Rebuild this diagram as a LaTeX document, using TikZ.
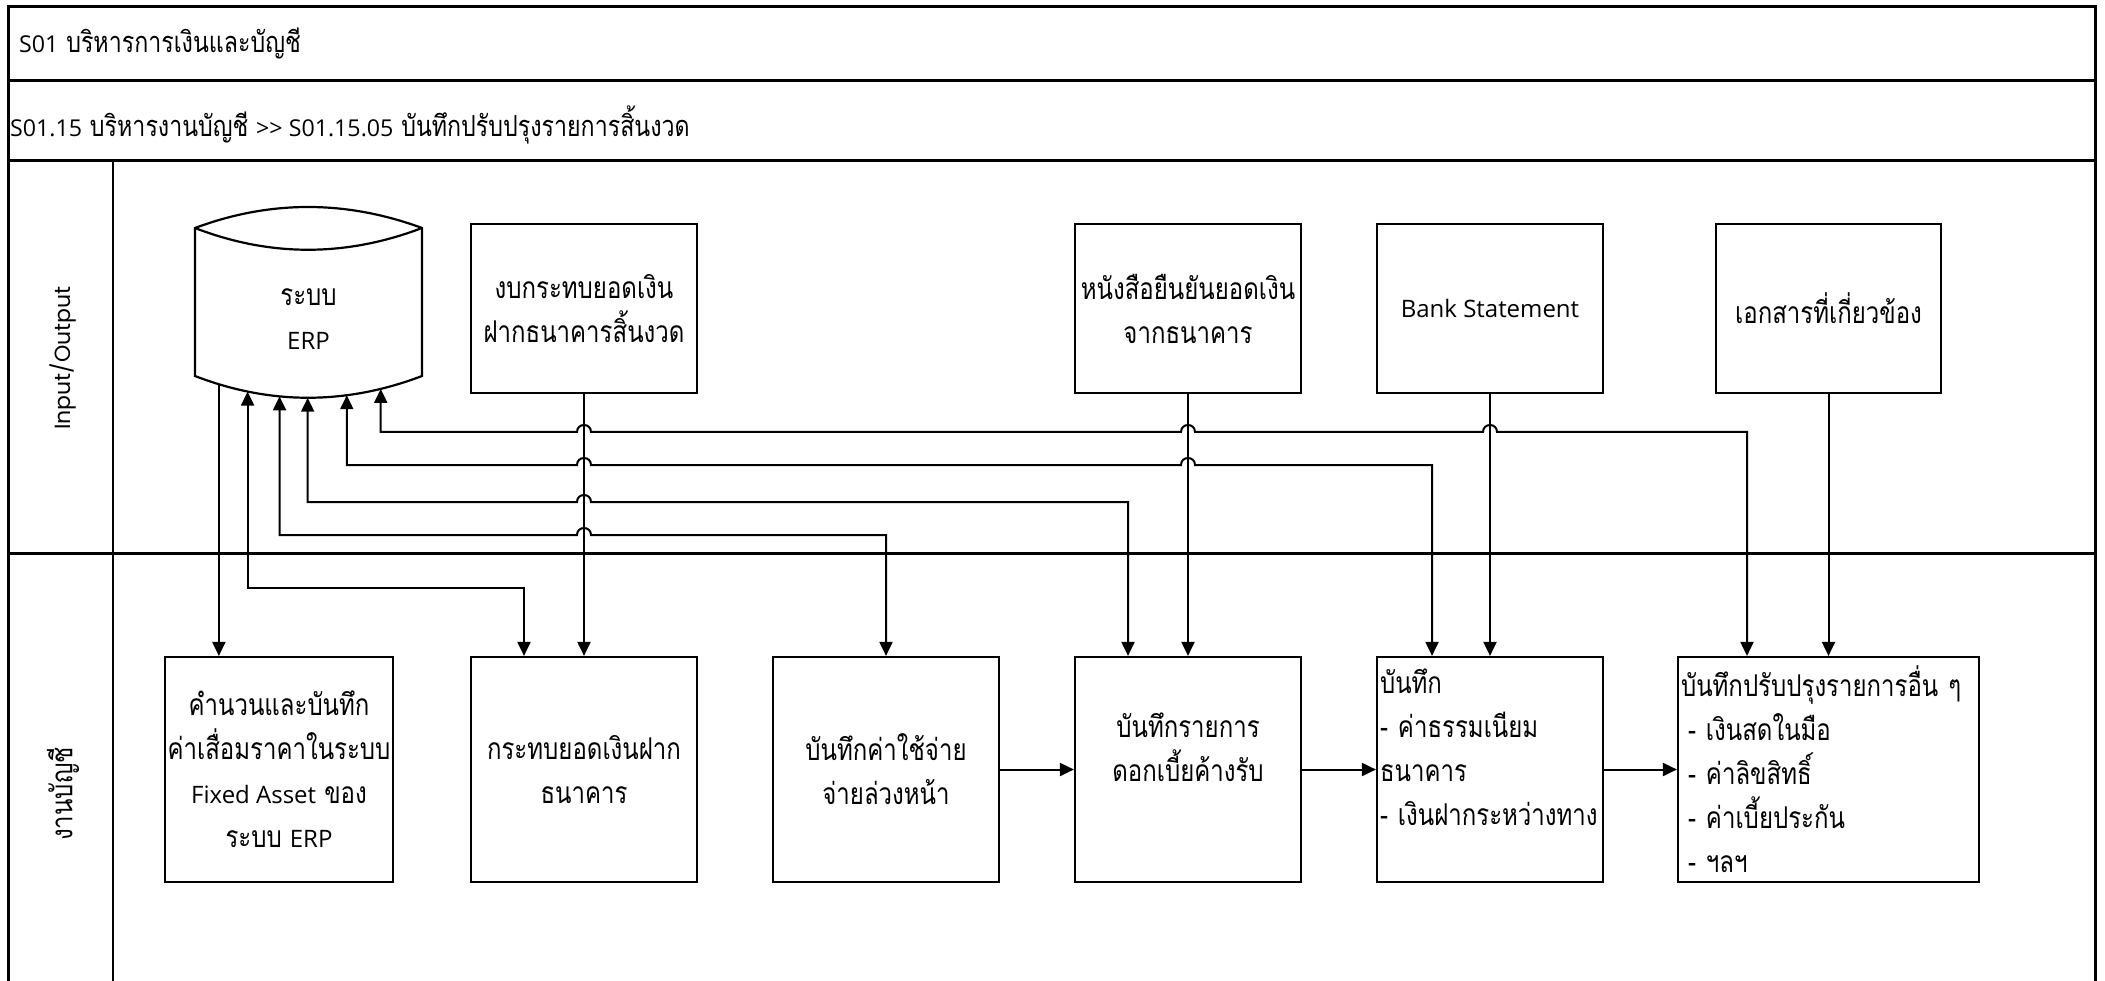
\documentclass[tikz,border=0pt]{standalone}
\usepackage{fontspec}
\setmainfont[Script=Thai,FakeStretch=0.8]{Loma}
\newfontfamily\latn[Scale=0.8]{Open Sans}
\newfontfamily\geo{Poppins}
\usetikzlibrary{arrows.meta,calc}
\newcommand\thaisize{\fontsize{30pt}{44pt}\selectfont}
\newcommand\headsize{\fontsize{29pt}{44pt}\selectfont}

\begin{document}
\begin{tikzpicture}[x=1pt,y=-1pt,
  >={Triangle[length=14pt,width=13pt]},
  frame/.style={line width=3pt},
  divider/.style={line width=2pt},
  box/.style={draw, line width=2.2pt, inner xsep=2pt, inner ysep=1pt, align=center, font=\thaisize},
  upbox/.style={box, minimum width=226pt, minimum height=169pt},
  lowbox/.style={box, minimum width=226pt, minimum height=225pt},
  flow/.style={line width=2pt, ->},
  twoway/.style={line width=2pt, <->},
  header/.style={anchor=west, inner sep=0pt, font=\headsize},
]
\useasboundingbox (0,0) rectangle (2105,981);
\fill[white] (0,0) rectangle (2105,981);
\clip (0,0) rectangle (2105,981);

% frame, header rows and swimlanes
\draw[frame] (8,1000) -- (8,7) -- (2095,7) -- (2095,1000);
\draw[frame] (8,81) -- (2095,81);
\draw[frame] (8,161) -- (2095,161);
\draw[frame] (8,553) -- (2095,553);
\draw[divider] (113,161) -- (113,1000);

\node[header] (title) at (19,44) {{\latn S01} บริหารการเงินและบัญชี};
\node[header] (subtitle) at (10,125) {{\latn S01.15} บริหารงานบัญชี {\latn >> S01.15.05} บันทึกปรับปรุงรายการสิ้นงวด};

\node[rotate=90, font=\geo\fontsize{22pt}{26pt}\selectfont] (lane-io) at (63,358) {Input/Output};
\node[rotate=90, font=\thaisize] (lane-acc) at (63,794) {งานบัญชี};

% ERP data store
\node[align=center, font=\thaisize] (erp) at (308.5,319) {ระบบ\\{\latn ERP}};
\draw[line width=2.2pt] (195,228) .. controls (270,200) and (346,200) .. (422,228)
  -- (422,376) .. controls (346,405) and (270,405) .. (195,376) -- cycle;
\draw[line width=2.2pt] (195,228) .. controls (270,257) and (346,257) .. (422,228);
\path (195,376) .. controls (270,405) and (346,405) .. (422,376)
  coordinate[pos=0.106] (erp-b0) coordinate[pos=0.233] (erp-b1)
  coordinate[pos=0.374] (erp-b2) coordinate[pos=0.498] (erp-b3)
  coordinate[pos=0.670] (erp-b4) coordinate[pos=0.819] (erp-b5);

% input documents
\node[upbox] (bankrec) at (584,308.5) {งบกระทบยอดเงิน\\ฝากธนาคารสิ้นงวด};
\node[upbox] (confirm) at (1188,308.5) {หนังสือยืนยันยอดเงิน\\จากธนาคาร};
\node[upbox] (stmt) at (1490,308.5) {\latn Bank Statement};
\node[upbox, minimum width=225pt] (docs) at (1828.5,308.5) {เอกสารที่เกี่ยวข้อง};

% accounting steps
\node[lowbox, minimum width=228pt] (deprec) at (279,769.5)
  {คำนวนและบันทึก\\ค่าเสื่อมราคาในระบบ\\{\latn Fixed Asset} ของ\\ระบบ {\latn ERP}};
\node[lowbox] (recon) at (584,769.5) {กระทบยอดเงินฝาก\\ธนาคาร};
\node[lowbox] (prepaid) at (886,769.5) {บันทึกค่าใช้จ่าย\\จ่ายล่วงหน้า};
\node[lowbox] (interest) at (1188,769.5) {บันทึกรายการ\\ดอกเบี้ยค้างรับ\\\mbox{}};
\node[lowbox, align=left, text width=220pt] (fees) at (1490,769.5)
  {บันทึก\\-~ค่าธรรมเนียม\\ธนาคาร\\-~เงินฝากระหว่างทาง\\\mbox{}};
\node[lowbox, align=left, text width=295pt, minimum width=301pt] (other) at (1828.5,769.5)
  {บันทึกปรับปรุงรายการอื่น~ๆ\\\hspace*{7pt}-~เงินสดในมือ\\\hspace*{7pt}-~ค่าลิขสิทธิ์\\\hspace*{7pt}-~ค่าเบี้ยประกัน\\\hspace*{7pt}-~ฯลฯ};

% entry points on the tops of the steps
\coordinate (recon-in) at ($(recon.north)+(-60,0)$);
\coordinate (interest-in) at ($(interest.north)+(-60,0)$);
\coordinate (fees-in) at ($(fees.north)+(-58,0)$);
\coordinate (other-in) at ($(other.north)+(-81.5,0)$);

% ERP links (line hops over the document feeds)
\draw[flow] (erp-b0) -- (erp-b0 |- deprec.north);
\draw[twoway] (erp-b1) -- (erp-b1 |- 0,588) -| (recon-in);
\draw[twoway] (erp-b2) -- (erp-b2 |- 0,535) -- (577,535)
  .. controls (577,525.7) and (591,525.7) .. (591,535) -| (prepaid.north);
\draw[twoway] (erp-b3) -- (erp-b3 |- 0,502) -- (577,502)
  .. controls (577,492.7) and (591,492.7) .. (591,502) -| (interest-in);
\draw[twoway] (erp-b4) -- (erp-b4 |- 0,465) -- (577,465)
  .. controls (577,455.7) and (591,455.7) .. (591,465) -- (1181,465)
  .. controls (1181,455.7) and (1195,455.7) .. (1195,465) -| (fees-in);
\draw[twoway] (erp-b5) -- (erp-b5 |- 0,432) -- (577,432)
  .. controls (577,422.7) and (591,422.7) .. (591,432) -- (1181,432)
  .. controls (1181,422.7) and (1195,422.7) .. (1195,432) -- (1483,432)
  .. controls (1483,422.7) and (1497,422.7) .. (1497,432) -| (other-in);

% document feeds
\draw[flow] (bankrec.south) -- (recon.north);
\draw[flow] (confirm.south) -- (interest.north);
\draw[flow] (stmt.south) -- (fees.north);
\draw[flow] (docs.south) -- (docs.south |- other.north);

% step sequence
\draw[flow] (prepaid.east) -- (interest.west);
\draw[flow] (interest.east) -- (fees.west);
\draw[flow] (fees.east) -- (other.west);
\end{tikzpicture}
\end{document}
